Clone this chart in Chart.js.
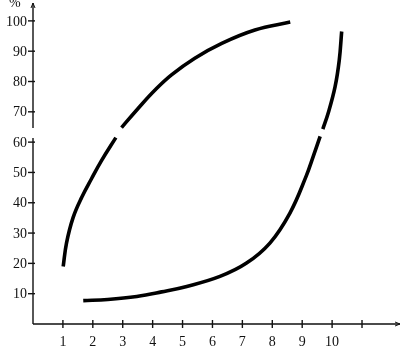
<!DOCTYPE html>
<html>
<head>
<meta charset="utf-8">
<script src="https://cdn.jsdelivr.net/npm/chart.js@4.4.0/dist/chart.umd.min.js"></script>
<style>
  html, body { margin: 0; padding: 0; background: #fff; }
  #wrap { width: 403px; height: 349px; }
</style>
</head>
<body>
<div id="wrap"><canvas id="chart" width="403" height="349"></canvas></div>
<script>
// values (null = break in the drawn curve)
const upperX = [1.01, 1.12, 1.34, 1.63, 1.96, 2.29, 2.77, 2.86, 2.96, 3.52, 4.08, 4.63, 5.41, 6.31, 7.42, 8.6];
const upperY = [19.0, 26.7, 35.1, 41.8, 48.0, 53.9, 61.5, null, 64.8, 71.2, 77.2, 82.2, 87.7, 92.6, 97.0, 99.6];

const lowerX = [1.68, 2.5, 3.47, 4.3, 5.14, 6.25, 7.14, 7.92, 8.59, 9.13, 9.37, 9.6, 9.645, 9.69, 9.87, 10.1, 10.24, 10.32];
const lowerY = [7.7, 8.1, 9.1, 10.6, 12.4, 15.7, 20.1, 26.7, 36.6, 48.7, 55.3, 61.9, null, 64.3, 69.6, 78.3, 87.1, 96.5];

const xTicks = [1, 2, 3, 4, 5, 6, 7, 8, 9, 10, 11];
const xTickLabels = ['1', '2', '3', '4', '5', '6', '7', '8', '9', '10', ''];
const yTicks = [10, 20, 30, 40, 50, 60, 70, 80, 90, 100];
const yUnit = '%';
const yAxisBreak = [61.4, 64.7];

const toPoints = (xs, ys) => xs.map((x, i) => ({ x: x, y: ys[i] }));

const FONT = '14px "Liberation Serif", "DejaVu Serif", serif';

const axesPlugin = {
    id: 'handAxes',
    afterDraw(chart) {
        const ctx = chart.ctx;
        const xs = chart.scales.x;
        const ys = chart.scales.y;
        const x0 = xs.getPixelForValue(0);
        const y0 = ys.getPixelForValue(0);
        const top = chart.chartArea.top;
        const right = chart.chartArea.right;
        const b1 = ys.getPixelForValue(yAxisBreak[0]);
        const b2 = ys.getPixelForValue(yAxisBreak[1]);

        ctx.save();
        ctx.strokeStyle = '#111';
        ctx.fillStyle = '#111';
        ctx.lineWidth = 1.4;

        // y axis, with its break
        ctx.beginPath();
        ctx.moveTo(x0, y0);
        ctx.lineTo(x0, b1);
        ctx.moveTo(x0, b2);
        ctx.lineTo(x0, top);
        // x axis
        ctx.moveTo(x0, y0);
        ctx.lineTo(right, y0);
        ctx.stroke();

        // arrow heads
        ctx.lineWidth = 1;
        ctx.beginPath();
        ctx.moveTo(x0 - 2, top + 5);
        ctx.lineTo(x0, top);
        ctx.lineTo(x0 + 2, top + 5);
        ctx.moveTo(right - 5, y0 - 2);
        ctx.lineTo(right, y0);
        ctx.lineTo(right - 5, y0 + 2);
        ctx.stroke();

        ctx.lineWidth = 1.4;
        ctx.font = FONT;

        // y ticks
        ctx.textAlign = 'right';
        ctx.textBaseline = 'middle';
        yTicks.forEach(v => {
            const py = ys.getPixelForValue(v);
            ctx.beginPath();
            ctx.moveTo(x0 - 5, py);
            ctx.lineTo(x0 + 2, py);
            ctx.stroke();
            ctx.fillText(String(v), x0 - 6, py + 1);
        });

        // x ticks
        ctx.textAlign = 'center';
        ctx.textBaseline = 'top';
        xTicks.forEach((v, i) => {
            const px = xs.getPixelForValue(v);
            ctx.beginPath();
            ctx.moveTo(px, y0 - 4);
            ctx.lineTo(px, y0 + 4);
            ctx.stroke();
            ctx.fillText(xTickLabels[i], px, y0 + 11);
        });

        // unit label
        ctx.textAlign = 'left';
        ctx.textBaseline = 'alphabetic';
        ctx.fillText(yUnit, 9, 7);
        ctx.restore();
    }
};

const lineStyle = {
    borderColor: '#000',
    borderWidth: 3.6,
    borderCapStyle: 'butt',
    pointRadius: 0,
    fill: false,
    spanGaps: false,
    tension: 0.4
};

new Chart(document.getElementById('chart'), {
    type: 'line',
    data: {
        datasets: [
            Object.assign({ label: 'upper', data: toPoints(upperX, upperY) }, lineStyle),
            Object.assign({ label: 'lower', data: toPoints(lowerX, lowerY) }, lineStyle)
        ]
    },
    options: {
        responsive: false,
        animation: false,
        layout: { padding: { left: 33, right: 3, top: 3, bottom: 25 } },
        plugins: {
            legend: { display: false },
            tooltip: { enabled: false }
        },
        scales: {
            x: { type: 'linear', min: 0, max: 12.27, display: false },
            y: { type: 'linear', min: 0, max: 105.9, display: false }
        }
    },
    plugins: [axesPlugin]
});
</script>
</body>
</html>
